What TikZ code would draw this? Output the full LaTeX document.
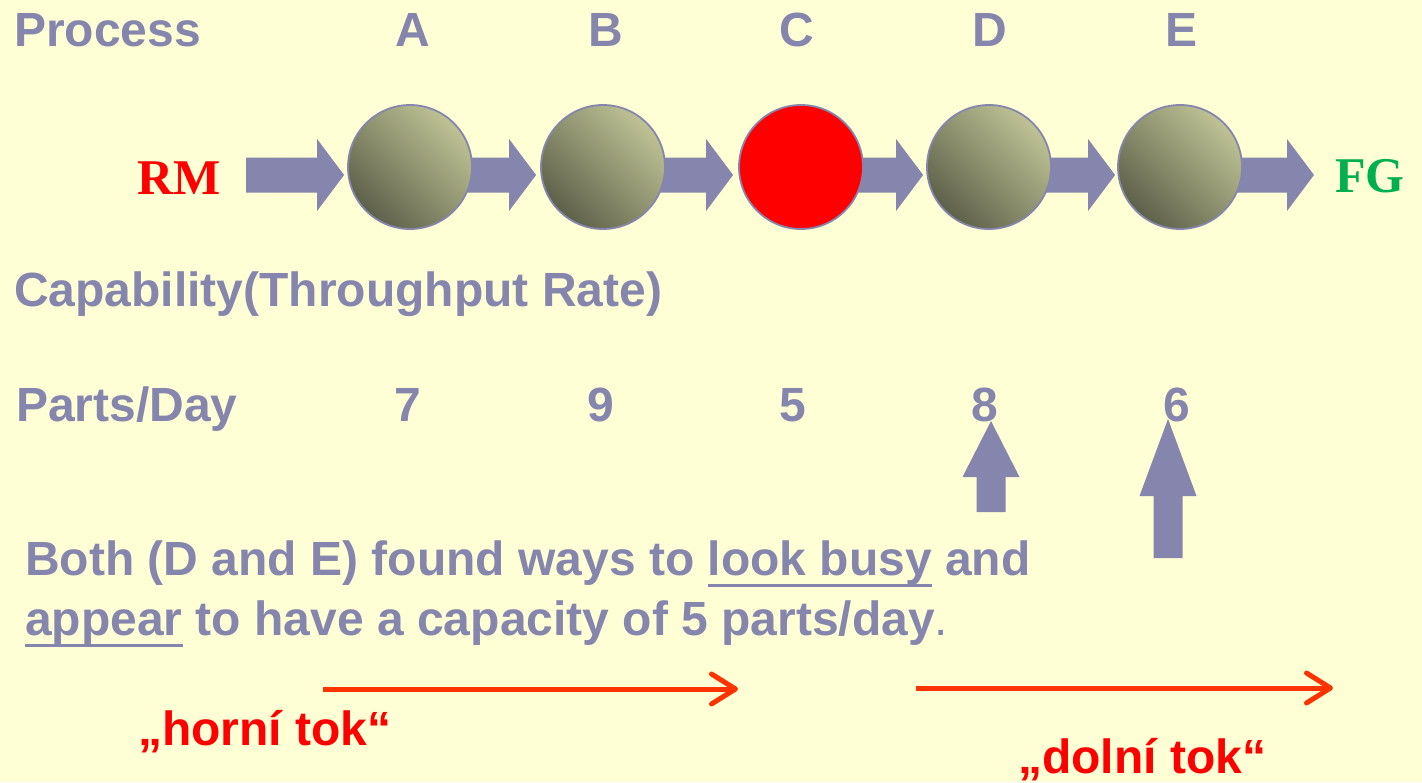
\documentclass[tikz,border=0pt]{standalone}
\usepackage{fontspec}
\setmainfont{Liberation Sans}
\newfontfamily\rmserif{Liberation Serif}
\usetikzlibrary{arrows.meta, positioning, calc, backgrounds}

\definecolor{paper}{RGB}{255,255,214}
\definecolor{slate}{RGB}{133,133,173}
\definecolor{olivelight}{RGB}{190,194,148}
\definecolor{olivedark}{RGB}{94,97,74}
\definecolor{fggreen}{RGB}{0,176,80}
\definecolor{tokred}{RGB}{255,51,0}

% block arrow along the line, tail -> tip
\newcommand{\flowarrow}[2]{%
  \fill[flow] ($(#1)+(0,-17.5)$) -- ($(#2)+(-27,-17.5)$) -- ($(#2)+(-27,-36)$)
    -- (#2) -- ($(#2)+(-27,36)$) -- ($(#2)+(-27,17.5)$) -- ($(#1)+(0,17.5)$) -- cycle;}
% upright block arrow: tail, tip, head length
\newcommand{\risearrow}[3]{%
  \fill[flow] ($(#1)+(-14.5,0)$) -- ($(#2)+(-14.5,#3)$) -- ($(#2)+(-28.5,#3)$)
    -- (#2) -- ($(#2)+(28.5,#3)$) -- ($(#2)+(14.5,#3)$) -- ($(#1)+(14.5,0)$) -- cycle;}
\newcommand{\lineunder}[1]{\setbox0\hbox{#1}\rlap{\rule[-11.5pt]{\wd0}{3pt}}\box0\relax}

\begin{document}
\begin{tikzpicture}[
  x=1pt, y=-1pt,
  label/.style   = {text=slate, inner sep=0pt, font=\fontsize{48}{56}\selectfont\bfseries},
  station/.style = {circle, minimum size=124pt, inner sep=0pt, draw=slate, line width=1.8pt},
  olive/.style   = {top color=olivelight, bottom color=olivedark, shading angle=-45},
  flow/.style    = {fill=slate},
  ends/.style    = {inner sep=0pt, font=\rmserif\bfseries\fontsize{50}{60}\selectfont},
  tok/.style     = {text=red, inner sep=0pt, font=\fontsize{48}{56}\selectfont\bfseries},
  tokarrow/.style = {draw=tokred, line width=5pt, -{Straight Barb[length=24pt, width=30pt, round]}},
]
  \useasboundingbox (0,0) rectangle (1422,782);

  % header row
  \node[label, anchor=base west] (proc) at (14,46)  {Process};
  \node[label, anchor=base]      (hA)   at (413,46) {A};
  \node[label, anchor=base]      (hB)   at (606,46) {B};
  \node[label, anchor=base]      (hC)   at (797,46) {C};
  \node[label, anchor=base]      (hD)   at (990,46) {D};
  \node[label, anchor=base]      (hE)   at (1181,46) {E};

  % process line
  \node[station, olive]  (A) at (410,167)  {};
  \node[station, olive]  (B) at (603,167)  {};
  \node[station, fill=red] (C) at (801,167) {};
  \node[station, olive]  (D) at (989,167)  {};
  \node[station, olive]  (E) at (1180,167) {};
  \node[ends, text=red,     anchor=base] (RM) at (179,194)  {RM};
  \node[ends, text=fggreen, anchor=base] (FG) at (1370,192) {FG};

  \coordinate (rmtail) at (246,175);
  \coordinate (inA)  at ($(A.west)+(-3,8)$);
  \coordinate (inB)  at ($(B.west)+(-4,8)$);
  \coordinate (inC)  at ($(C.west)+(-5,8)$);
  \coordinate (inD)  at ($(D.west)+(-3,8)$);
  \coordinate (inE)  at ($(E.west)+(-2,8)$);
  \coordinate (inFG) at (1314,175);

  \begin{scope}[on background layer]
    \fill[paper] (0,0) rectangle (1422,782);
    \flowarrow{rmtail}{inA}
    \flowarrow{A |- inB}{inB}
    \flowarrow{B |- inC}{inC}
    \flowarrow{C |- inD}{inD}
    \flowarrow{D |- inE}{inE}
    \flowarrow{E |- inFG}{inFG}
  \end{scope}

  % capability rows
  \node[label, anchor=base west] (capab) at (14,306) {Capability(Throughput Rate)};
  \node[label, anchor=base west] (perday) at (16,421) {Parts/Day};
  \node[label, anchor=base] (nA) at (408,421)  {7};
  \node[label, anchor=base] (nB) at (601,421)  {9};
  \node[label, anchor=base] (nC) at (793,421)  {5};
  \node[label, anchor=base] (nD) at (985,421)  {8};
  \node[label, anchor=base] (nE) at (1177,421) {6};

  % D and E pushed up
  \coordinate (tipD)  at (991,421);
  \coordinate (tailD) at (991,512);
  \coordinate (tipE)  at (1168,419);
  \coordinate (tailE) at (1168,558);
  \risearrow{tailD}{tipD}{56}
  \risearrow{tailE}{tipE}{77}

  \node[label, anchor=base west] (busy1) at (25,575)
    {Both (D and E) found ways to \lineunder{look busy} and};
  \node[label, anchor=base west] (busy2) at (25,635)
    {\lineunder{appear} to have a capacity of 5 parts/day{\mdseries.}};

  % up- and downstream
  \coordinate (upfrom)   at (323,689);
  \coordinate (upto)     at (738,689);
  \coordinate (downfrom) at (916,688);
  \coordinate (downto)   at (1333,688);
  \draw[tokarrow] (upfrom) -- (upto);
  \draw[tokarrow] (downfrom) -- (downto);
  \node[tok, anchor=base west] (horni) at (138,745)  {„horní tok“};
  \node[tok, anchor=base west] (dolni) at (1018,773) {„dolní tok“};
\end{tikzpicture}
\end{document}
